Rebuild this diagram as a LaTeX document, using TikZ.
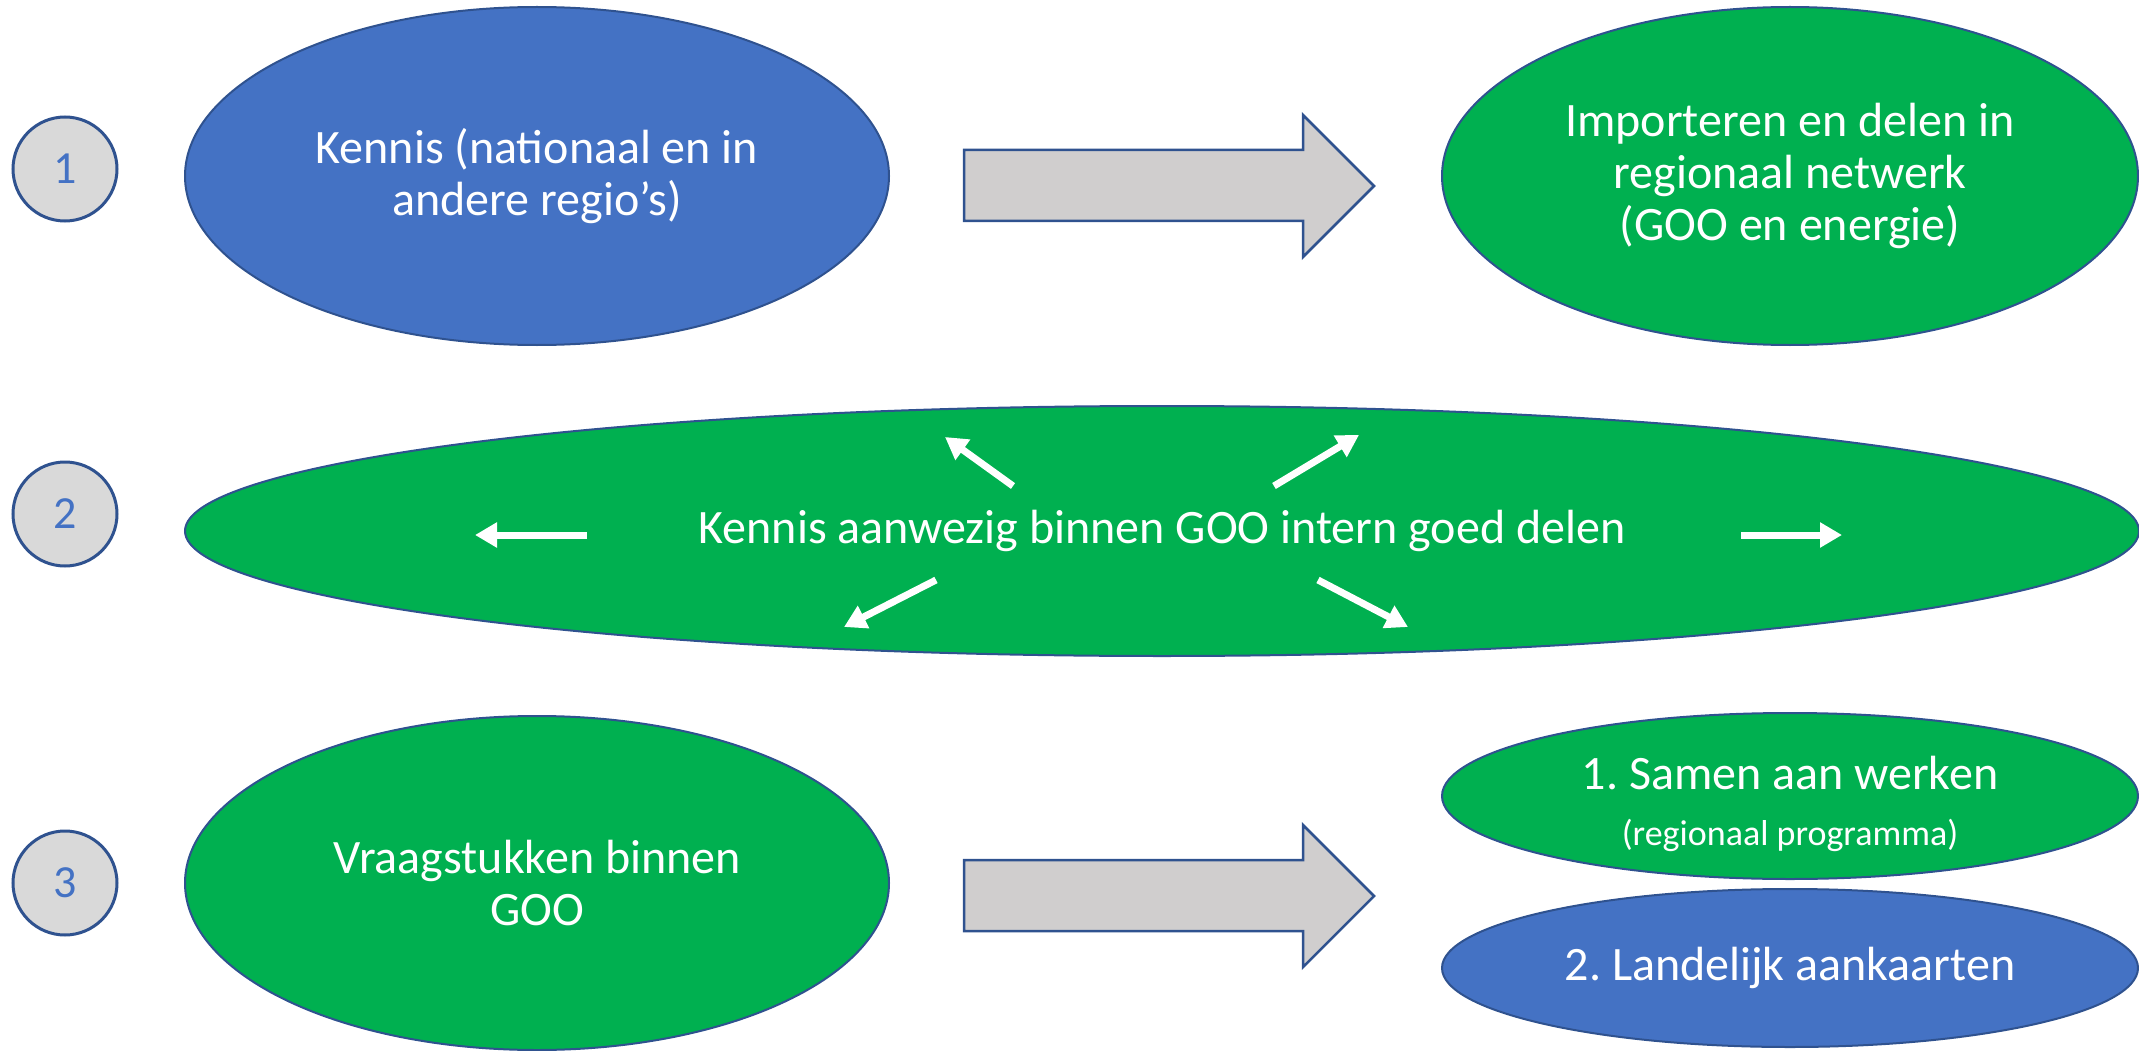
\documentclass[tikz,border=0pt]{standalone}
\usepackage{fontspec}
\setmainfont{Carlito}
\usetikzlibrary{arrows.meta, positioning, shapes.geometric}
\definecolor{blauw}{HTML}{4472C4}
\definecolor{groen}{HTML}{00B050}
\definecolor{rand}{HTML}{2F528F}
\definecolor{grijs}{HTML}{D9D9D9}
\definecolor{pijlgrijs}{HTML}{D0CECE}
\tikzset{
  ovaal/.style={ellipse, draw=rand, line width=2pt, text=white, align=center,
    inner sep=0pt, font=\fontsize{48}{52}\selectfont},
  ovaalblauw/.style={ovaal, fill=blauw},
  ovaalgroen/.style={ovaal, fill=groen},
  nummer/.style={circle, draw=rand, line width=3pt, fill=grijs, text=blauw,
    minimum size=104pt, inner sep=0pt, font=\fontsize{46}{52}\selectfont},
  blokpijl/.style={draw=rand, line width=2.5pt, fill=pijlgrijs, line join=miter},
  pijlwit/.style={-{Triangle[length=22pt,width=24pt]}, white, line width=7pt}
}
\newcommand{\klein}{\fontsize{36}{40}\selectfont}
\frenchspacing

\begin{document}
\begin{tikzpicture}[x=1pt, y=-1pt]
  \useasboundingbox (0,0) rectangle (2139,1051);

  % nummers
  \node[nummer] (nr1) at (65,169) {1};
  \node[nummer] (nr2) at (65,514) {2};
  \node[nummer] (nr3) at (65,883) {3};

  % rij 1
  \node[ovaalblauw, minimum width=704pt, minimum height=338pt] (kennis) at (537,176)
    {Kennis (nationaal en in\\andere regio’s)};
  \node[ovaalgroen, minimum width=696pt, minimum height=338pt] (importeren) at (1790,176)
    {Importeren en delen in\\regionaal netwerk\\(GOO en energie)};

  % rij 2
  \node[ovaalgroen, minimum width=1954pt, minimum height=250pt] (intern) at (1162,531)
    {Kennis aanwezig binnen GOO intern goed delen};

  % rij 3
  \node[ovaalgroen, minimum width=704pt, minimum height=334pt] (vraag) at (537,883)
    {Vraagstukken binnen\\GOO};
  \node[ovaalgroen, minimum width=696pt, minimum height=166pt] (samen) at (1790,796)
    {\rule{0pt}{50pt}1. Samen aan werken\\[4pt]{\klein (regionaal programma)}};
  \node[ovaalblauw, minimum width=696pt, minimum height=158pt] (landelijk) at (1790,968)
    {2. Landelijk aankaarten};

  % blokpijlen
  \foreach \dy in {0,710} {
    \draw[blokpijl, yshift=-\dy pt] (964,150) -- (1303,150) -- (1303,115) -- (1374,186)
      -- (1303,257) -- (1303,221) -- (964,221) -- cycle;
  }

  % witte pijlen
  \foreach \nm/\sx/\sy/\ex/\ey in {l/587/535/475/535, r/1741/535/1842/535,
      lb/1013/486/945/437, rb/1274/486/1359/435,
      lo/936/580/844/627, ro/1318/580/1408/627} {
    \coordinate (van\nm) at (\sx,\sy);
    \coordinate (naar\nm) at (\ex,\ey);
    \draw[pijlwit] (van\nm) -- (naar\nm);
  }
\end{tikzpicture}
\end{document}
